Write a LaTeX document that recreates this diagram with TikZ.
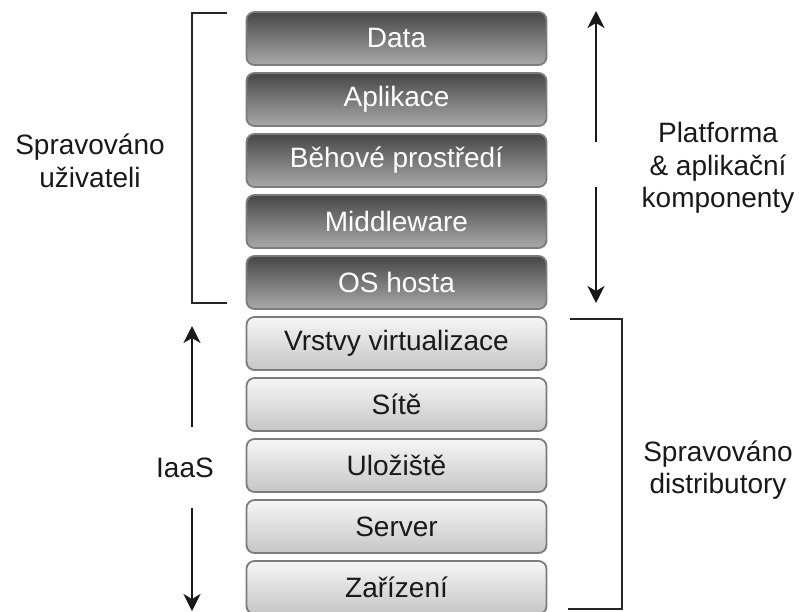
\documentclass[tikz,border=0pt]{standalone}
\usepackage{fontspec}
\setmainfont{Liberation Sans}
\usetikzlibrary{arrows.meta}
\definecolor{darktop}{HTML}{474747}
\definecolor{darkbot}{HTML}{A9A9A9}
\definecolor{lighttop}{HTML}{F6F6F6}
\definecolor{lightbot}{HTML}{C6C6C6}
\definecolor{boxborder}{HTML}{7C7C7C}
\tikzset{
  layer/.style={draw=boxborder, line width=1.8pt, rounded corners=8pt,
    minimum width=300pt, minimum height=53pt, inner sep=0pt,
    font=\fontsize{28}{32}\selectfont},
  darklayer/.style={layer, top color=darktop, bottom color=darkbot, text=white},
  lightlayer/.style={layer, top color=lighttop, bottom color=lightbot, text=black!90},
  lbl/.style={align=center, font=\fontsize{28}{32.5}\selectfont, text=black!90, inner sep=0pt},
  bracket/.style={draw=black!85, line width=2pt},
  arr/.style={draw=black!90, line width=2pt, -{Stealth[length=17pt,width=17pt,inset=5pt]}}
}
\begin{document}
\begin{tikzpicture}[x=1pt,y=-1pt]
\useasboundingbox (0,0) rectangle (799,611);
\clip (0,0) rectangle (799,611);
% layers
\node[darklayer] (data) at (396.5,38.5) {Data};
\node[darklayer] (apl) at (396.5,99.5) {Aplikace};
\node[darklayer] (beh) at (396.5,160.5) {Běhové prostředí};
\node[darklayer] (mid) at (396.5,221.5) {Middleware};
\node[darklayer] (os) at (396.5,282.5) {OS hosta};
\node[lightlayer] (vrs) at (396.5,343.5) {Vrstvy virtualizace};
\node[lightlayer] (sit) at (396.5,404.5) {Sítě};
\node[lightlayer] (ulo) at (396.5,465.5) {Uložiště};
\node[lightlayer] (ser) at (396.5,526.5) {Server};
\node[lightlayer] (zar) at (396.5,587.5) {Zařízení};
% labels
\node[lbl] (uziv) at (90,161) {Spravováno\\uživateli};
\node[lbl] (plat) at (718,168) {Platforma\\\& aplikační\\komponenty};
\node[lbl] (iaas) at (185,468) {IaaS};
\node[lbl] (dist) at (718,470) {Spravováno\\distributory};
% left bracket (user managed)
\coordinate (lb1) at (227,13);
\coordinate (lb2) at (192,13);
\coordinate (lb3) at (192,303);
\coordinate (lb4) at (227,303);
\draw[bracket] (lb1) -- (lb2) -- (lb3) -- (lb4);
% right bracket (distributor managed)
\coordinate (rb1) at (570,319);
\coordinate (rb2) at (622,319);
\coordinate (rb3) at (622,609);
\coordinate (rb4) at (568,609);
\draw[bracket] (rb1) -- (rb2) -- (rb3) -- (rb4);
% right arrows
\coordinate (ra1) at (596,142);
\coordinate (ra2) at (596,11);
\coordinate (ra3) at (596,187);
\coordinate (ra4) at (596,303);
\draw[arr] (ra1) -- (ra2);
\draw[arr] (ra3) -- (ra4);
% left arrows
\coordinate (la1) at (192,427);
\coordinate (la2) at (192,326);
\coordinate (la3) at (192,508);
\coordinate (la4) at (192,611);
\draw[arr] (la1) -- (la2);
\draw[arr] (la3) -- (la4);
\end{tikzpicture}
\end{document}
